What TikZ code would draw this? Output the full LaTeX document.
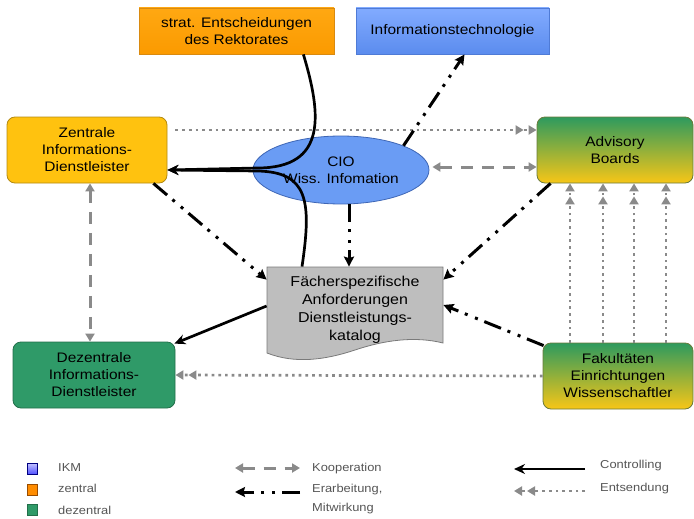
\documentclass[tikz,border=0pt]{standalone}
\usepackage{fontspec}
\setmainfont{Liberation Sans}[FakeStretch=1.12]
\usetikzlibrary{arrows.meta,shapes.geometric}

\definecolor{orgA}{HTML}{FFA812}
\definecolor{orgB}{HTML}{FB9A00}
\definecolor{orgE}{HTML}{D98A10}
\definecolor{itA}{HTML}{82ABFF}
\definecolor{itB}{HTML}{5B8CEE}
\definecolor{itE}{HTML}{4F7BD6}
\definecolor{zenF}{HTML}{FFC20F}
\definecolor{zenE}{HTML}{B48A10}
\definecolor{cioF}{HTML}{6A9CF4}
\definecolor{cioE}{HTML}{3E66B5}
\definecolor{grnF}{HTML}{2F9A68}
\definecolor{grnE}{HTML}{226F4A}
\definecolor{mixTop}{HTML}{2E9A5E}
\definecolor{mixBot}{HTML}{F7C617}
\definecolor{mixE}{HTML}{6A7A3A}
\definecolor{fachF}{HTML}{BEBEBE}
\definecolor{fachE}{HTML}{7A7A7A}
\definecolor{lgray}{HTML}{8A8A8A}
\definecolor{legtext}{HTML}{555555}

\begin{document}
\begin{tikzpicture}[x=1pt,y=-1pt,
  box/.style={draw, line width=0.8pt, inner sep=0pt, align=center,
    font=\fontsize{13.8}{17}\selectfont},
  rbox/.style={box, rounded corners=8pt},
  coop/.style={draw=lgray, line width=3pt, dash pattern=on 12pt off 9pt,
    {Triangle[length=8pt,width=9pt]}-{Triangle[length=8pt,width=9pt]}},
  erarb/.style={draw=black, line width=3pt,
    dash pattern=on 18pt off 7pt on 3pt off 8pt on 3pt off 7pt,
    -{Stealth[length=10pt,width=10pt,inset=1.5pt]}},
  ctrl/.style={draw=black, line width=2.7pt, -{Stealth[length=11pt,width=10pt]}},
  entsend/.style={draw=lgray, line width=2.7pt, dash pattern=on 2.7pt off 4pt,
    -{Triangle[length=8pt,width=9pt,sep=5pt]Triangle[length=8pt,width=9pt]}},
  legsq/.style={draw, line width=0.6pt, minimum width=10pt, minimum height=11pt, inner sep=0pt},
  legtxt/.style={anchor=west, inner sep=0pt, text=legtext, align=left,
    font=\fontsize{11.5}{19}\selectfont}
]
\useasboundingbox (0,0) rectangle (694,519);

% Fachspezifischer Katalog: document shape with wavy lower edge
\draw[draw=fachE, fill=fachF, line width=0.8pt]
  (267,267) -- (443,267) -- (443,343)
  .. controls (415,336) and (385,340) .. (355,350)
  .. controls (325,360) and (295,364) .. (267,353) -- cycle;

% Nodes
\node[box, draw=orgE, top color=orgA, bottom color=orgB,
  minimum width=195pt, minimum height=46pt] (rekt) at (236.5,31)
  {strat. Entscheidungen\\des Rektorates};
\node[box, draw=itE, top color=itA, bottom color=itB,
  minimum width=193pt, minimum height=46pt] (it) at (452.5,31)
  {Informationstechnologie};
\node[rbox, draw=zenE, fill=zenF,
  minimum width=160pt, minimum height=66pt] (zen) at (87,150)
  {Zentrale\\Informations-\\Dienstleister};
\node[box, ellipse, draw=cioE, fill=cioF,
  minimum width=176pt, minimum height=68pt] (cio) at (341,170)
  {CIO\\Wiss. Infomation};
\node[rbox, draw=mixE, top color=mixTop, bottom color=mixBot,
  minimum width=156pt, minimum height=66pt] (adv) at (615,150)
  {Advisory\\Boards};
\node[box, draw=none, font=\fontsize{14.3}{18}\selectfont,
  minimum width=176pt, minimum height=86pt] (fach) at (355,310)
  {Fächerspezifische\\Anforderungen\\Dienstleistungs-\\katalog};
\node[rbox, draw=grnE, fill=grnF,
  minimum width=162pt, minimum height=66pt] (dez) at (94,375)
  {Dezentrale\\Informations-\\Dienstleister};
\node[rbox, draw=mixE, top color=mixTop, bottom color=mixBot,
  minimum width=150pt, minimum height=66pt] (fak) at (618,376)
  {Fakultäten\\Einrichtungen\\Wissenschaftler};

% Entsendung (dotted, double tip)
\draw[entsend] ([xshift=8pt,yshift=20pt]zen.east) -- ([yshift=20pt]adv.west);
\draw[entsend] (fak.west) -- (dez.east);
\foreach \d in {-48,-15,16,48}{
  \coordinate (p) at ([xshift=\d pt]fak.north);
  \draw[entsend] (p) -- (p |- adv.south);
}

% Kooperation (dashed)
\draw[coop] ([xshift=3pt,yshift=3pt]cio.east) -- ([yshift=-17pt]adv.west);
\draw[coop] ([xshift=3pt]zen.south) -- ([xshift=-4pt]dez.north);

% Erarbeitung, Mitwirkung (dash-dot-dot)
\draw[erarb] (cio.north east) -- ([xshift=12pt]it.south);
\draw[erarb] ([xshift=-14pt]zen.south east) -- ([yshift=-13pt]fach.north west);
\draw[erarb] ([xshift=8pt]cio.south) -- ([xshift=-6pt]fach.north);
\draw[erarb] ([xshift=14pt]adv.south west) -- ([yshift=-13pt]fach.north east);
\draw[erarb] ([xshift=1pt,yshift=-3pt]fak.north west) -- ([yshift=5pt]fach.east);

% Controlling (solid)
\draw[ctrl] ([xshift=-31pt]rekt.south east)
  .. controls +(18,60) and +(70,0) .. ([xshift=90pt,yshift=-18pt]zen.east)
  -- ([yshift=-20pt]zen.east);
\draw[ctrl] ([xshift=-53pt]fach.north)
  .. controls +(10,-67) and +(50,1) .. ([xshift=90pt,yshift=-21pt]zen.east)
  -- ([yshift=-20pt]zen.east);
\draw[ctrl] (fach.west |- 0,306) -- ([xshift=-1pt,yshift=-2pt]dez.north east);

% Legend
\node[legsq, draw=blue!50!black, top color=blue!25, bottom color=blue!70] (sqA) at (32.5,469) {};
\node[legsq, draw=orange!60!black, fill=orange!90!yellow] (sqB) at (32.5,490) {};
\node[legsq, draw=grnE, fill=grnF] (sqC) at (32.5,510) {};
\node[legtxt] (tA) at (58,468) {IKM};
\node[legtxt] (tB) at (58,488) {zentral};
\node[legtxt] (tC) at (58,510) {dezentral};

\coordinate (kR) at (300,468); \coordinate (kL) at (235,468);
\draw[coop] (kL) -- (kR);
\node[legtxt] (tK) at (312,469) {Kooperation};

\coordinate (eR) at (300,492); \coordinate (eL) at (235,492);
\draw[erarb] (eR) -- (eL);
\node[legtxt, anchor=north west] (tE) at (312,484) {Erarbeitung,\\Mitwirkung};

\coordinate (cR) at (585,469); \coordinate (cL) at (514,469);
\draw[ctrl] (cR) -- (cL);
\node[legtxt] (tCt) at (600,466) {Controlling};

\coordinate (sR) at (585,491); \coordinate (sL) at (514,491);
\draw[entsend] (sR) -- (sL);
\node[legtxt] (tS) at (600,489) {Entsendung};
\end{tikzpicture}
\end{document}
